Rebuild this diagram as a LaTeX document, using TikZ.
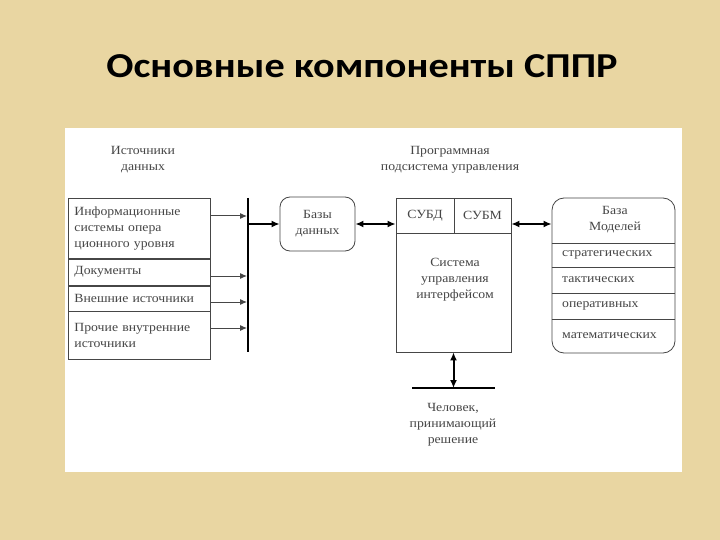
\documentclass[tikz,border=0pt]{standalone}
\usepackage{fontspec}
\setmainfont{Liberation Serif}[FakeStretch=1.1]
\newfontfamily\titlefont{Carlito}[FakeStretch=1.15]
\usetikzlibrary{positioning,arrows.meta}

\definecolor{slidebg}{RGB}{233,214,162}
\definecolor{inkgray}{RGB}{70,70,70}

\tikzset{
  txt/.style={font=\fontsize{12.5}{16}\selectfont, text=inkgray, align=center, inner sep=0pt},
  srcrow/.style={draw=inkgray, line width=0.8pt, minimum width=142pt, text width=130pt,
                 inner xsep=6pt, inner ysep=0pt, align=left,
                 font=\fontsize{12.5}{16}\selectfont, text=inkgray},
  box/.style={draw=inkgray, line width=0.8pt, inner sep=0pt},
  bus/.style={line width=2.5pt, black},
  feed/.style={line width=1pt, inkgray, -{Latex[length=7pt,width=6pt]}},
  link/.style={line width=2pt, black, -{Latex[length=8pt,width=7pt]}},
  linkboth/.style={line width=2pt, black, {Latex[length=8pt,width=7pt]}-{Latex[length=8pt,width=7pt]}}
}

\begin{document}
\begin{tikzpicture}[x=1pt, y=-1pt]
  % Slide background and white panel
  \fill[slidebg] (0,0) rectangle (720,540);
  \useasboundingbox (0,0) rectangle (720,540);
  \fill[white] (65,128) rectangle (682,472);

  \node[font=\titlefont\bfseries\fontsize{35}{40}\selectfont] (title) at (362,66)
       {Основные компоненты СППР};

  % Data sources
  \node[txt] (srchead) at (143,160) {Источники\\данных};
  \node[srcrow, minimum height=60pt, anchor=north west] (src1) at (68,198)
       {Информационные\\системы опера\\ционного уровня};
  \node[srcrow, minimum height=26pt, below=0pt of src1] (src2) {Документы};
  \node[srcrow, minimum height=25pt, below=0pt of src2] (src3) {Внешние источники};
  \node[srcrow, minimum height=48pt, below=0pt of src3] (src4)
       {Прочие внутренние\\источники};

  % Bus line
  \coordinate (bustop) at (248,198);
  \coordinate (busbot) at (248,352);
  \draw[bus] (bustop) -- (busbot);
  \coordinate (in1) at (247,216);
  \coordinate (in2) at (247,276);
  \coordinate (in3) at (247,302);
  \coordinate (in4) at (247,328);
  \draw[feed] (src1.east |- in1) -- (in1);
  \draw[feed] (src2.east |- in2) -- (in2);
  \draw[feed] (src3.east |- in3) -- (in3);
  \draw[feed] (src4.east |- in4) -- (in4);

  % Databases
  \node[box, txt, rounded corners=10pt, minimum width=75pt, minimum height=54pt]
       (db) at (317.5,224) {Базы\\данных};
  \draw[link] (bustop |- db.west) -- (db.west);

  % Control subsystem
  \node[txt] (ctrlhead) at (450,160) {Программная\\подсистема управления};
  \node[box, minimum width=115pt, minimum height=154pt] (ctrl) at (453.5,275) {};
  \node[box, txt, minimum width=58pt, minimum height=35pt, anchor=north west]
       (dbms) at (ctrl.north west) {СУБД};
  \node[box, txt, minimum width=57pt, minimum height=35pt, anchor=north east]
       (mbms) at (ctrl.north east) {СУБМ};
  \node[txt] (ui) at (455,280) {Система\\управления\\интерфейсом};

  % Model base
  \node[box, rounded corners=12pt, minimum width=123pt, minimum height=155pt]
       (models) at (613.5,275.5) {};
  \node[txt] (mhead) at (615,220) {База\\Моделей};
  \foreach \y in {243,267,293,319}
    \draw[inkgray, line width=0.8pt] (models.west |- 0,\y) -- (models.east |- 0,\y);
  \node[txt, anchor=west] (m1) at (562,255) {стратегических};
  \node[txt, anchor=west] (m2) at (562,280) {тактических};
  \node[txt, anchor=west] (m3) at (562,306) {оперативных};
  \node[txt, anchor=west] (m4) at (562,336) {математических};

  \draw[linkboth] (db.east) -- (db.east -| ctrl.west);
  \draw[linkboth] (ctrl.east |- db.east) -- (models.west |- db.east);

  % Decision maker
  \coordinate (hl) at (412,388);
  \coordinate (hr) at (495,388);
  \draw[bus] (hl) -- (hr);
  \draw[linkboth] (ctrl.south) -- (ctrl.south |- hl);
  \node[txt] (human) at (453,425) {Человек,\\принимающий\\решение};
\end{tikzpicture}
\end{document}
